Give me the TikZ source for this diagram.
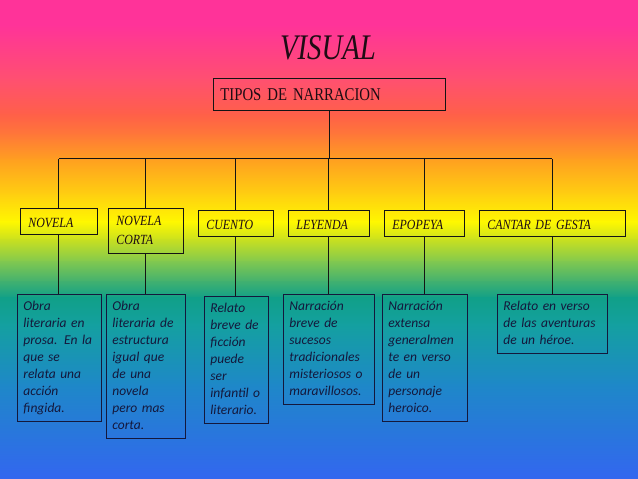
\documentclass[tikz,border=0pt]{standalone}
\usepackage{fontspec}
\newfontfamily\ttlf{Liberation Serif}[FakeStretch=0.8]
\newfontfamily\tipf{Liberation Serif}[FakeStretch=0.82]
\newfontfamily\lvlf{Liberation Serif}[FakeStretch=0.85]
\newfontfamily\descf{Carlito}
\newcommand\tipfont{\tipf\fontsize{18}{20}\selectfont\spaceskip 3.2pt plus 1pt\relax}
\newcommand\lvlfont{\lvlf\itshape\fontsize{14}{19}\selectfont\spaceskip 2.6pt plus 1pt\relax}
\definecolor{g1}{HTML}{FF3399}
\definecolor{g2}{HTML}{FF5070}
\definecolor{g3}{HTML}{FF6048}
\definecolor{g4}{HTML}{FF7838}
\definecolor{g5}{HTML}{FFA020}
\definecolor{g6}{HTML}{FFD010}
\definecolor{g7}{HTML}{FFF800}
\definecolor{g8}{HTML}{C8E020}
\definecolor{g9}{HTML}{80C850}
\definecolor{g10}{HTML}{40B070}
\definecolor{g11}{HTML}{10A088}
\definecolor{g12}{HTML}{14A0A0}
\definecolor{g13}{HTML}{1E88C8}
\definecolor{g14}{HTML}{3366F0}
\definecolor{linec}{HTML}{141414}
\definecolor{navy}{HTML}{14183C}
\definecolor{ink}{HTML}{1E0C14}
\tikzset{
  titlef/.style={anchor=base, text=ink, inner sep=0pt, font=\ttlf\itshape\fontsize{36}{40}\selectfont},
  tipbox/.style={draw=linec, line width=0.8pt, anchor=north west, minimum width=232pt, minimum height=32pt, text width=218pt, inner xsep=7pt, align=left, text=ink, font=\tipfont},
  lvl/.style={draw=linec, line width=0.8pt, anchor=north west, inner xsep=8pt, minimum height=26pt, align=left, text=ink, font=\lvlfont},
  lvlone/.style={lvl, inner ysep=5pt, text height=14pt, text depth=2pt},
  desc/.style={draw=navy, line width=0.8pt, anchor=north west, inner xsep=6pt, inner ysep=4pt, align=left, text=navy, font=\descf\itshape\fontsize{13.5}{17}\selectfont},
  conn/.style={draw=linec, line width=0.9pt}
}
\begin{document}
\begin{tikzpicture}[x=1pt,y=-1pt]
\useasboundingbox (0,0) rectangle (638,479);
\foreach \ya/\yb/\ca/\cb in {0/25/g1/g1, 25/80/g1/g2, 80/115/g2/g3, 115/135/g3/g4, 135/160/g4/g5, 160/195/g5/g6, 195/222/g6/g7, 222/240/g7/g8, 240/262/g8/g9, 262/282/g9/g10, 282/298/g10/g11, 298/325/g11/g12, 325/385/g12/g13, 385/479/g13/g14}
  \shade[top color=\ca, bottom color=\cb] (-1,\ya-0.6) rectangle (639,\yb+0.6);
\node[titlef] (vis) at (328,59) {VISUAL};
\node[tipbox] (tipos) at (213,78) {TIPOS DE NARRACION};
\node[lvlone, text width=61pt] (novela) at (20,208) {NOVELA};
\node[lvl, text width=59pt, minimum height=45pt] (corta) at (108,208) {NOVELA\\CORTA};
\node[lvlone, text width=59pt] (cuento) at (198,210) {CUENTO};
\node[lvlone, text width=65pt] (leyenda) at (288,210) {LEYENDA};
\node[lvlone, text width=64pt] (epopeya) at (384,210) {EPOPEYA};
\node[lvlone, text width=130pt] (cantar) at (479,210) {CANTAR DE GESTA};
\node[desc, text width=72pt] (d1) at (17,294) {\strut Obra\\\strut literaria en\\\strut prosa. En la\\\strut que se\\\strut relata una\\\strut acción\\\strut fingida.};
\node[desc, text width=67pt] (d2) at (106,294) {\strut Obra\\\strut literaria de\\\strut estructura\\\strut igual que\\\strut de una\\\strut novela\\\strut pero mas\\\strut corta.};
\node[desc, text width=52pt] (d3) at (204,296) {\strut Relato\\\strut breve de\\\strut ficción\\\strut puede\\\strut ser\\\strut infantil o\\\strut literario.};
\node[desc, text width=79pt] (d4) at (283,294) {\strut Narración\\\strut breve de\\\strut sucesos\\\strut tradicionales\\\strut misteriosos o\\\strut maravillosos.};
\node[desc, text width=73pt] (d5) at (382,294) {\strut Narración\\\strut extensa\\\strut generalmen\\\strut te en verso\\\strut de un\\\strut personaje\\\strut heroico.};
\node[desc, text width=98pt] (d6) at (497,294) {\strut Relato en verso\\\strut de las aventuras\\\strut de un héroe.};
\path (tipos.south) ++(0,48) coordinate (hub);
\draw[conn] (tipos.south) -- (hub);
\draw[conn] (novela.north |- hub) -- (cantar.north |- hub);
\foreach \n in {novela,corta,cuento,leyenda,epopeya,cantar}
  \draw[conn] (\n.north) -- (\n.north |- hub);
\draw[conn] (novela.south) -- (novela.south |- d1.north);
\draw[conn] (corta.south) -- (corta.south |- d2.north);
\draw[conn] (cuento.south) -- (cuento.south |- d3.north);
\draw[conn] (leyenda.south) -- (leyenda.south |- d4.north);
\draw[conn] (epopeya.south) -- (epopeya.south |- d5.north);
\draw[conn] (cantar.south) -- (cantar.south |- d6.north);
\end{tikzpicture}
\end{document}
